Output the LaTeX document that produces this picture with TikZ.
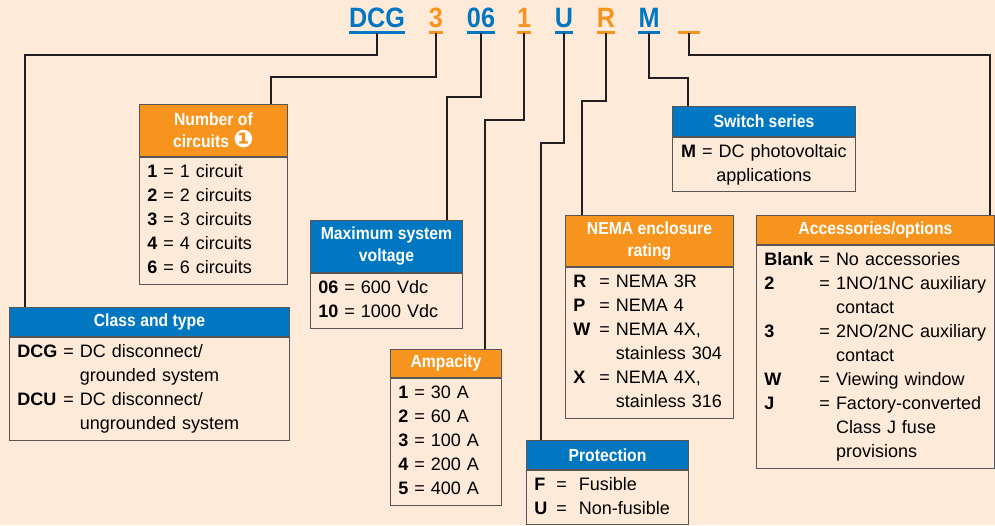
\documentclass[tikz,border=0pt]{standalone}
\usepackage{fontspec}
\setmainfont{Liberation Sans}
\newfontfamily\hdfont{Liberation Sans}[FakeStretch=0.9]
\newfontfamily\dingfont{DejaVu Sans}
\usepackage{xcolor}
\usepackage{tikz}
\usetikzlibrary{positioning}

\definecolor{bgpeach}{RGB}{253,234,216}
\definecolor{codeblue}{RGB}{0,119,192}
\definecolor{codeorange}{RGB}{247,148,29}
\definecolor{boxline}{RGB}{90,85,85}
\definecolor{linkcol}{RGB}{35,31,32}

\tikzset{
  hdblue/.style={fill=codeblue, draw=boxline, line width=0.9pt, text=white, align=center,
    anchor=north west, inner sep=0pt, font=\hdfont\bfseries\fontsize{17.5}{22}\selectfont},
  hdorange/.style={hdblue, fill=codeorange},
  bodybox/.style={draw=boxline, line width=0.9pt, anchor=north west, align=left,
    inner xsep=8pt, inner ysep=0pt, font=\fontsize{18}{24}\selectfont},
  codetxt/.style={anchor=base, inner sep=0pt, font=\hdfont\bfseries\fontsize{28}{28}\selectfont},
  link/.style={draw=linkcol, line width=1.2pt},
  uline/.style={line width=3pt}
}

\begin{document}
\begin{tikzpicture}[x=1pt, y=-1pt]
  \fill[bgpeach] (0,0) rectangle (995,525);
  \useasboundingbox (0,0) rectangle (995,525);

  % Catalogue number
  \node[codetxt, text=codeblue] (cclass) at (377,27) {DCG};
  \node[codetxt, text=codeorange] (ccirc) at (436,27) {3};
  \node[codetxt, text=codeblue] (cvolt) at (481,27) {06};
  \node[codetxt, text=codeorange] (camp) at (524,27) {1};
  \node[codetxt, text=codeblue] (cprot) at (564,27) {U};
  \node[codetxt, text=codeorange] (cnema) at (606,27) {R};
  \node[codetxt, text=codeblue] (cser) at (649,27) {M};
  \node[codetxt, minimum width=21pt] (copt) at (689,27) {};

  \draw[uline, codeblue] ([yshift=-5pt]cclass.base west) -- ([yshift=-5pt]cclass.base east);
  \draw[uline, codeorange] ([yshift=-5pt]ccirc.base west) -- ([yshift=-5pt]ccirc.base east);
  \draw[uline, codeblue] ([yshift=-5pt]cvolt.base west) -- ([yshift=-5pt]cvolt.base east);
  \draw[uline, codeorange] ([yshift=-5pt]camp.base west) -- ([yshift=-5pt]camp.base east);
  \draw[uline, codeblue] ([yshift=-5pt]cprot.base west) -- ([yshift=-5pt]cprot.base east);
  \draw[uline, codeorange] ([yshift=-5pt]cnema.base west) -- ([yshift=-5pt]cnema.base east);
  \draw[uline, codeblue] ([yshift=-5pt]cser.base west) -- ([yshift=-5pt]cser.base east);
  \draw[uline, codeorange] ([yshift=-5pt]copt.base west) -- ([yshift=-5pt]copt.base east);

  % Class and type
  \node[hdblue, minimum width=280pt, minimum height=29pt] (clsh) at (9,307) {Class and type};
  \node[bodybox, text width=264pt, minimum height=103pt] (cls) at (clsh.south west) {%
    \begin{tabular}{@{}l@{\ }l@{\ }l@{}}
      \textbf{DCG} & = & DC disconnect/\\
                   &   & grounded system\\
      \textbf{DCU} & = & DC disconnect/\\
                   &   & ungrounded system
    \end{tabular}};

  % Number of circuits
  \node[hdorange, minimum width=148pt, minimum height=52pt] (circh) at (139,104)
    {Number of\\circuits {\dingfont\fontsize{24}{22}\selectfont ❶}};
  \node[bodybox, text width=132pt, minimum height=127pt] (circ) at (circh.south west) {%
    \begin{tabular}{@{}l@{\ }l@{\ }l@{}}
      \textbf{1} & = & 1 circuit\\
      \textbf{2} & = & 2 circuits\\
      \textbf{3} & = & 3 circuits\\
      \textbf{4} & = & 4 circuits\\
      \textbf{6} & = & 6 circuits
    \end{tabular}};

  % Maximum system voltage
  \node[hdblue, minimum width=152pt, minimum height=52pt] (volth) at (310,220)
    {Maximum system\\voltage};
  \node[bodybox, text width=136pt, minimum height=55pt] (volt) at (volth.south west) {%
    \begin{tabular}{@{}l@{\ }l@{\ }l@{}}
      \textbf{06} & = & 600 Vdc\\
      \textbf{10} & = & 1000 Vdc
    \end{tabular}};

  % Ampacity
  \node[hdorange, minimum width=111pt, minimum height=28pt] (amph) at (390,349) {Ampacity};
  \node[bodybox, text width=95pt, minimum height=127pt] (amp) at (amph.south west) {%
    \begin{tabular}{@{}l@{\ }l@{\ }l@{}}
      \textbf{1} & = & 30 A\\
      \textbf{2} & = & 60 A\\
      \textbf{3} & = & 100 A\\
      \textbf{4} & = & 200 A\\
      \textbf{5} & = & 400 A
    \end{tabular}};

  % Protection
  \node[hdblue, minimum width=162pt, minimum height=29pt] (proth) at (526,440) {Protection};
  \node[bodybox, text width=146pt, minimum height=54pt] (prot) at (proth.south west) {%
    \begin{tabular}{@{}l@{\ \,}l@{\ \ }l@{}}
      \textbf{F} & = & Fusible\\
      \textbf{U} & = & Non-fusible
    \end{tabular}};

  % NEMA enclosure rating
  \node[hdorange, minimum width=168pt, minimum height=51pt] (nemah) at (565,215)
    {NEMA enclosure\\rating};
  \node[bodybox, text width=152pt, minimum height=151pt] (nema) at (nemah.south west) {%
    \begin{tabular}{@{}l@{\ \,}l@{\ }l@{}}
      \textbf{R} & = & NEMA 3R\\
      \textbf{P} & = & NEMA 4\\
      \textbf{W} & = & NEMA 4X,\\
                 &   & stainless 304\\
      \textbf{X} & = & NEMA 4X,\\
                 &   & stainless 316
    \end{tabular}};

  % Switch series
  \node[hdblue, minimum width=183pt, minimum height=30pt] (serh) at (672,106) {Switch series};
  \node[bodybox, text width=167pt, minimum height=54pt, align=center] (ser) at (serh.south west)
    {\textbf{M} = DC photovoltaic\\applications};

  % Accessories/options
  \node[hdorange, minimum width=238pt, minimum height=29pt] (opth) at (756,215) {Accessories/options};
  \node[bodybox, text width=222pt, minimum height=223pt] (opt) at (opth.south west) {%
    \begin{tabular}{@{}l@{\ }l@{\ }l@{}}
      \textbf{Blank} & = & No accessories\\
      \textbf{2}     & = & 1NO/1NC auxiliary\\
                     &   & contact\\
      \textbf{3}     & = & 2NO/2NC auxiliary\\
                     &   & contact\\
      \textbf{W}     & = & Viewing window\\
      \textbf{J}     & = & Factory-converted\\
                     &   & Class J fuse\\
                     &   & provisions
    \end{tabular}};

  % Leader lines
  \draw[link] ([yshift=-6pt]cclass.base) -- ++(0,22) -| ([xshift=16pt]clsh.north west);
  \draw[link] ([yshift=-6pt]ccirc.base) -- ++(0,44) -| ([xshift=132pt]circh.north west);
  \draw[link] ([yshift=-6pt]cvolt.base) -- ++(0,64) -| ([xshift=137pt]volth.north west);
  \draw[link] ([yshift=-6pt]camp.base) -- ++(0,87) -| ([xshift=95pt]amph.north west);
  \draw[link] ([yshift=-6pt]cprot.base) -- ++(0,110) -| ([xshift=15pt]proth.north west);
  \draw[link] ([yshift=-6pt]cnema.base) -- ++(0,68) -| ([xshift=17pt]nemah.north west);
  \draw[link] ([yshift=-6pt]cser.base) -- ++(0,45) -| ([xshift=16pt]serh.north west);
  \draw[link] ([yshift=-6pt]copt.base) -- ++(0,22) -| ([xshift=-5pt]opth.north east);
\end{tikzpicture}
\end{document}
